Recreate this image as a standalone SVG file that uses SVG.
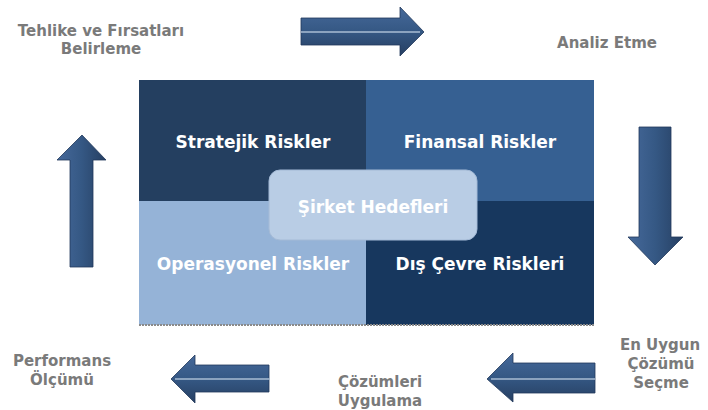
<svg xmlns="http://www.w3.org/2000/svg" width="708" height="410" viewBox="0 0 708 410">
<defs>
<linearGradient id="gh" x1="0" y1="0" x2="0" y2="1">
<stop offset="0" stop-color="#46699a"/><stop offset="0.5" stop-color="#355884"/><stop offset="1" stop-color="#263f62"/>
</linearGradient>
<linearGradient id="gv" x1="0" y1="0" x2="1" y2="0">
<stop offset="0" stop-color="#46699a"/><stop offset="0.5" stop-color="#355884"/><stop offset="1" stop-color="#263f62"/>
</linearGradient>
</defs>
<style>
.lbl{font-family:"DejaVu Sans",Verdana,sans-serif;font-weight:bold;font-size:15px;fill:#7a7a7a;text-anchor:middle}
.q{font-family:"DejaVu Sans",Verdana,sans-serif;font-weight:bold;font-size:17px;fill:#ffffff;text-anchor:middle}
.arrH{fill:url(#gh);stroke:#22395a;stroke-width:0.8}
.arrV{fill:url(#gv);stroke:#22395a;stroke-width:0.8}
.mid{stroke:#a9bcd3;stroke-width:1.5}
</style>
<rect width="708" height="410" fill="#ffffff"/>
<g id="matrix">
<rect x="139" y="80" width="227" height="121" fill="#243f60"/>
<rect x="366" y="80" width="228" height="121" fill="#366092"/>
<rect x="139" y="201" width="227" height="124" fill="#95b3d7"/>
<rect x="366" y="201" width="228" height="124" fill="#17375e"/>
<line x1="139" y1="325" x2="594" y2="325" stroke="#8a8a8a" stroke-width="2" stroke-dasharray="2,1"/>
</g>
<g id="n-stratejik"><text class="q" x="253" y="148">Stratejik Riskler</text></g>
<g id="n-finansal"><text class="q" x="480" y="148">Finansal Riskler</text></g>
<g id="n-operasyonel"><text class="q" x="253" y="270">Operasyonel Riskler</text></g>
<g id="n-discevre"><text class="q" x="480" y="270">Dış Çevre Riskleri</text></g>
<g id="n-hedef">
<rect x="269" y="170" width="208" height="70" rx="11" fill="#b9cde5" stroke="#a4bad6" stroke-width="1"/>
<text class="q" x="373" y="213" fill="#f4f7fb">Şirket Hedefleri</text>
</g>
<g id="connectors">
<g id="a-top">
<polygon class="arrH" points="301,18 400,18 400,7 424,32 400,56 400,45 301,45"/>
<line class="mid" x1="301" y1="32" x2="420" y2="32"/>
</g>
<g id="a-right">
<polygon class="arrV" points="639,127 671,127 671,237 683,237 655,265 628,237 639,237"/>
</g>
<g id="a-bottom-right">
<polygon class="arrH" points="595,363 513,363 513,353 487,379 513,402 513,393 595,393"/>
<line class="mid" x1="491" y1="379" x2="595" y2="379"/>
</g>
<g id="a-bottom-mid">
<polygon class="arrH" points="269,365 195,365 195,355 171,379 195,403 195,392 269,392"/>
<line class="mid" x1="175" y1="379" x2="270" y2="379"/>
</g>
<g id="a-left">
<polygon class="arrV" points="70,267 70,160 57,160 82,135 106,160 93,160 93,267"/>
</g>
</g>
<g id="n-tehlike"><text class="lbl" x="101" y="36">Tehlike ve Fırsatları</text><text class="lbl" x="101" y="54">Belirleme</text></g>
<g id="n-analiz"><text class="lbl" x="607" y="48">Analiz Etme</text></g>
<g id="n-enuygun"><text class="lbl" x="660" y="350">En Uygun</text><text class="lbl" x="661" y="369">Çözümü</text><text class="lbl" x="661" y="388">Seçme</text></g>
<g id="n-cozumleri"><text class="lbl" x="380" y="387">Çözümleri</text><text class="lbl" x="380" y="406">Uygulama</text></g>
<g id="n-performans"><text class="lbl" x="62" y="366">Performans</text><text class="lbl" x="62" y="385">Ölçümü</text></g>
</svg>
